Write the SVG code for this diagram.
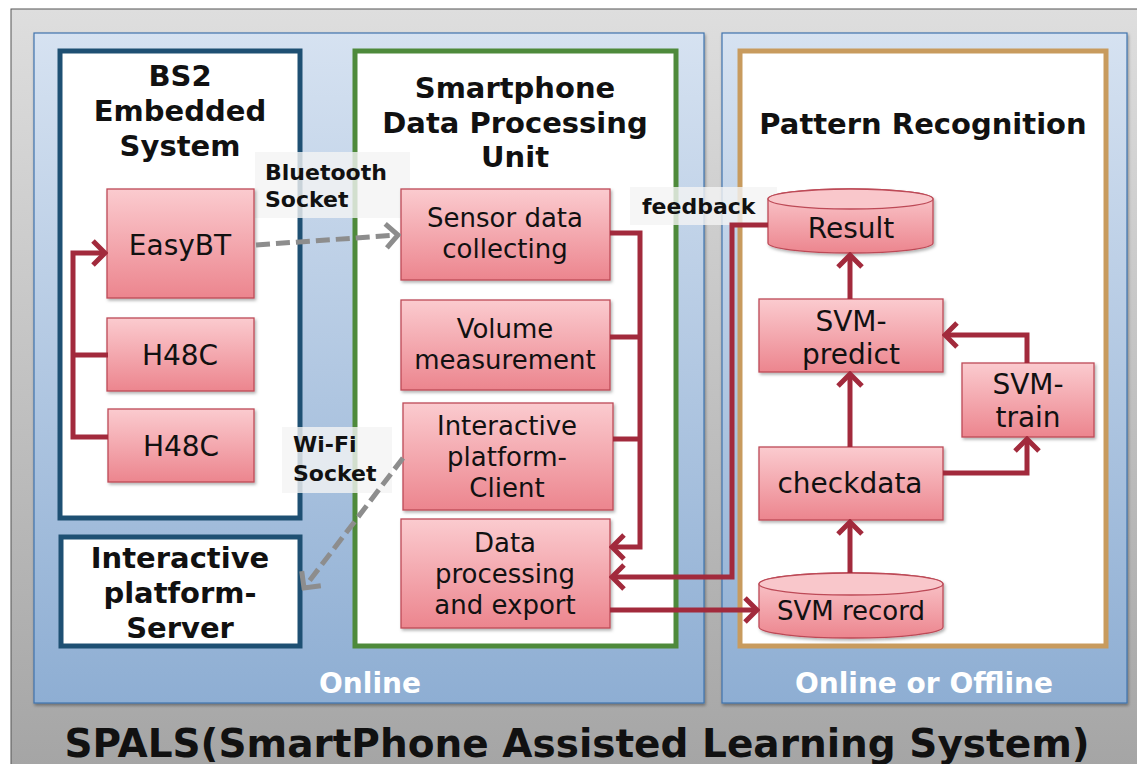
<svg xmlns="http://www.w3.org/2000/svg" width="1137" height="764" viewBox="0 0 1137 764">
<defs>
<style>
.t{font-family:"DejaVu Sans","Verdana",sans-serif;fill:#111;text-anchor:middle}
.b{font-weight:bold}
.n{font-size:28px}
.m{font-size:26px}
.h{font-size:29px;font-weight:bold}
.lbl{font-family:"DejaVu Sans",sans-serif;font-weight:bold;font-size:22px;fill:#111}
.on{font-family:"DejaVu Sans",sans-serif;font-weight:bold;font-size:28px;fill:#fff;text-anchor:middle}
.node{fill:url(#ng);stroke:#bd4a57;stroke-width:1.3;filter:url(#sh)}
.ctop{fill:#f9c7cb;stroke:#bd4a57;stroke-width:1.3}
.panel{fill:url(#bg);stroke:#3f73ad;stroke-width:1.2;filter:url(#sh2)}
.frame{fill:#fff;stroke-width:5}
.red{fill:none;stroke:#a22a3c;stroke-width:5;stroke-linejoin:miter}
.gray{fill:none;stroke:#8d8d8d;stroke-width:5;stroke-dasharray:14 6}
.lb{fill:#f4f4f4;opacity:0.8}
</style>
<linearGradient id="ng" x1="0" y1="0" x2="0" y2="1">
<stop offset="0" stop-color="#fbcbcf"/>
<stop offset="1" stop-color="#ec858e"/>
</linearGradient>
<linearGradient id="bg" x1="0" y1="0" x2="0" y2="1">
<stop offset="0" stop-color="#d6e2f1"/>
<stop offset="1" stop-color="#8eaed3"/>
</linearGradient>
<linearGradient id="gg" x1="0" y1="0" x2="0" y2="1">
<stop offset="0" stop-color="#dedede"/>
<stop offset="1" stop-color="#a4a4a4"/>
</linearGradient>
<filter id="sh" x="-10%" y="-10%" width="130%" height="140%">
<feDropShadow dx="1.5" dy="2" stdDeviation="1.5" flood-color="#000" flood-opacity="0.3"/>
</filter>
<filter id="sh2" x="-5%" y="-5%" width="110%" height="110%">
<feDropShadow dx="1" dy="2" stdDeviation="1.5" flood-color="#000" flood-opacity="0.35"/>
</filter>
<marker id="ar" markerUnits="userSpaceOnUse" viewBox="0 0 17 28" markerWidth="17" markerHeight="28" refX="14" refY="14" orient="auto">
<path d="M2,2 L14,14 L2,26" fill="none" stroke="#a22a3c" stroke-width="5"/>
</marker>
<marker id="ag" markerUnits="userSpaceOnUse" viewBox="0 0 17 28" markerWidth="17" markerHeight="28" refX="14" refY="14" orient="auto">
<path d="M2,2 L14,14 L2,26" fill="none" stroke="#8d8d8d" stroke-width="5"/>
</marker>
</defs>

<rect x="0" y="0" width="1137" height="764" fill="#fff"/>
<rect x="11" y="9" width="1140" height="770" fill="url(#gg)" stroke="#555" stroke-width="1"/>

<g id="panel-online">
<rect class="panel" x="34" y="33" width="670" height="670"/>
<text class="on" x="370" y="693">Online</text>
</g>
<g id="panel-offline">
<rect class="panel" x="722" y="33" width="405" height="670"/>
<text class="on" x="924" y="693">Online or Offline</text>
</g>

<text class="t b" x="577" y="757" font-size="39">SPALS(SmartPhone Assisted Learning System)</text>

<g id="bs2">
<rect class="frame" x="60" y="51" width="240" height="467" stroke="#1e5073"/>
<text class="t h" x="180" y="86">BS2</text>
<text class="t h" x="180" y="121">Embedded</text>
<text class="t h" x="180" y="156">System</text>
</g>
<g id="server">
<rect class="frame" x="61" y="537" width="239" height="109" stroke="#1e5073"/>
<text class="t h" x="180" y="568">Interactive</text>
<text class="t h" x="180" y="603">platform-</text>
<text class="t h" x="180" y="638">Server</text>
</g>
<g id="smartphone">
<rect class="frame" x="355" y="51" width="321" height="595" stroke="#4e8a3b"/>
<text class="t h" x="515" y="98">Smartphone</text>
<text class="t h" x="515" y="133">Data Processing</text>
<text class="t h" x="515" y="167">Unit</text>
</g>
<g id="pattern">
<rect class="frame" x="740" y="51" width="366" height="595" stroke="#c89b5e"/>
<text class="t h" x="923" y="134">Pattern Recognition</text>
</g>

<g id="label-bluetooth">
<rect class="lb" x="255" y="152" width="155" height="66"/>
<text class="lbl" x="265" y="180">Bluetooth</text>
<text class="lbl" x="265" y="207">Socket</text>
</g>
<g id="label-wifi">
<rect class="lb" x="282" y="427" width="110" height="66"/>
<text class="lbl" x="293" y="452">Wi-Fi</text>
<text class="lbl" x="293" y="481">Socket</text>
</g>
<g id="label-feedback">
<rect class="lb" x="630" y="187" width="147" height="38"/>
<text class="lbl" x="642" y="214">feedback</text>
</g>

<g id="easybt">
<rect class="node" x="107" y="189" width="147" height="109"/>
<text class="t n" x="180" y="255">EasyBT</text>
</g>
<g id="h48c-1">
<rect class="node" x="107" y="318" width="147" height="73"/>
<text class="t n" x="180" y="365">H48C</text>
</g>
<g id="h48c-2">
<rect class="node" x="108" y="409" width="146" height="73"/>
<text class="t n" x="181" y="456">H48C</text>
</g>

<g id="sensor">
<rect class="node" x="401" y="189" width="209" height="91"/>
<text class="t m" x="505" y="227">Sensor data</text>
<text class="t m" x="505" y="258">collecting</text>
</g>
<g id="volume">
<rect class="node" x="401" y="300" width="209" height="90"/>
<text class="t m" x="505" y="338">Volume</text>
<text class="t m" x="505" y="369">measurement</text>
</g>
<g id="client">
<rect class="node" x="403" y="403" width="210" height="107"/>
<text class="t m" x="507" y="435">Interactive</text>
<text class="t m" x="507" y="466">platform-</text>
<text class="t m" x="507" y="497">Client</text>
</g>
<g id="dataproc">
<rect class="node" x="401" y="519" width="209" height="109"/>
<text class="t m" x="505" y="552">Data</text>
<text class="t m" x="505" y="583">processing</text>
<text class="t m" x="505" y="614">and export</text>
</g>

<g id="result">
<path class="node" d="M768,199 V243 A82.5,10 0 0 0 933,243 V199 A82.5,10 0 0 0 768,199 Z"/>
<ellipse class="ctop" cx="850.5" cy="199" rx="82.5" ry="10"/>
<text class="t n" x="851" y="238">Result</text>
</g>
<g id="svm-predict">
<rect class="node" x="759" y="299" width="184" height="73"/>
<text class="t n" x="851" y="331">SVM-</text>
<text class="t n" x="851" y="364">predict</text>
</g>
<g id="svm-train">
<rect class="node" x="962" y="363" width="132" height="74"/>
<text class="t n" x="1028" y="394">SVM-</text>
<text class="t n" x="1028" y="427">train</text>
</g>
<g id="checkdata">
<rect class="node" x="759" y="447" width="184" height="73"/>
<text class="t n" x="850" y="493">checkdata</text>
</g>
<g id="svm-record">
<path class="node" d="M759,584 V627 A92,11 0 0 0 943,627 V584 A92,11 0 0 0 759,584 Z"/>
<ellipse class="ctop" cx="851" cy="584" rx="92" ry="11"/>
<text class="t m" x="851" y="620">SVM record</text>
</g>

<g id="connectors">
<path class="red" d="M108,437 H73 V253 H105" marker-end="url(#ar)"/>
<path class="red" d="M108,355 H73"/>
<path class="red" d="M610,233 H640 V547 H612" marker-end="url(#ar)"/>
<path class="red" d="M610,337 H640"/>
<path class="red" d="M613,439 H640"/>
<path class="red" d="M768,225 H732 V577 H612" marker-end="url(#ar)"/>
<path class="red" d="M610,610 H757" marker-end="url(#ar)"/>
<path class="red" d="M850,573 V522" marker-end="url(#ar)"/>
<path class="red" d="M850,447 V374" marker-end="url(#ar)"/>
<path class="red" d="M850,299 V255" marker-end="url(#ar)"/>
<path class="red" d="M1027,363 V335 H945" marker-end="url(#ar)"/>
<path class="red" d="M943,473 H1027 V439" marker-end="url(#ar)"/>
<path class="gray" d="M256,245 L398,235" marker-end="url(#ag)"/>
<path class="gray" d="M403,458 L304,588" marker-end="url(#ag)"/>
</g>
</svg>
